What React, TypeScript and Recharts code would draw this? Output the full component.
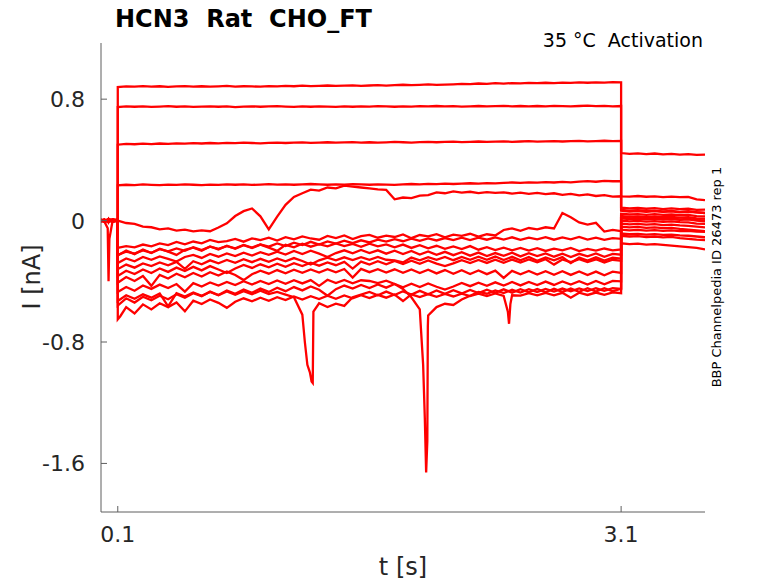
import { Line, LineChart, XAxis, YAxis } from "recharts"

// sample times (s): holding, voltage step, tail
const holdTimes = [0, 0.02, 0.04, 0.045, 0.05, 0.07, 0.1]
const stepTimes = [
  0.1, 0.15, 0.2, 0.25, 0.3, 0.35, 0.4, 0.45, 0.5, 0.55,
  0.6, 0.65, 0.7, 0.75, 0.8, 0.85, 0.9, 0.95, 1.0, 1.05,
  1.1, 1.15, 1.2, 1.25, 1.3, 1.35, 1.4, 1.45, 1.5, 1.55,
  1.6, 1.65, 1.7, 1.75, 1.8, 1.85, 1.9, 1.95, 2.0, 2.05,
  2.1, 2.15, 2.2, 2.25, 2.3, 2.35, 2.4, 2.45, 2.5, 2.55,
  2.6, 2.65, 2.7, 2.75, 2.8, 2.85, 2.9, 2.95, 3.0, 3.05,
  3.1,
]
const tailTimes = [3.1, 3.15, 3.2, 3.25, 3.3, 3.35, 3.4, 3.45, 3.5, 3.55, 3.6]

const xTicks = [0.1, 3.1]
const yTicks = [-1.6, -0.8, 0, 0.8]

// current (nA) per sweep
const holdA = [0.004, -0.006, 0.008, -0.003, 0.005, -0.008, 0.003]
const stepA = [
  0.880, 0.884, 0.882, 0.886, 0.883, 0.885, 0.881, 0.884, 0.886, 0.883,
  0.885, 0.882, 0.884, 0.887, 0.883, 0.885, 0.884, 0.882, 0.886, 0.884,
  0.887, 0.885, 0.889, 0.886, 0.888, 0.890, 0.887, 0.889, 0.891, 0.888,
  0.890, 0.892, 0.889, 0.893, 0.895, 0.892, 0.894, 0.897, 0.894, 0.896,
  0.898, 0.901, 0.899, 0.903, 0.901, 0.905, 0.903, 0.906, 0.904, 0.907,
  0.905, 0.908, 0.906, 0.909, 0.907, 0.910, 0.908, 0.911, 0.909, 0.912,
  0.910,
]
const tailA = [0.445, 0.44, 0.443, 0.438, 0.442, 0.436, 0.44, 0.435, 0.438, 0.433, 0.435]

const holdB = [-0.005, 0.007, -0.004, 0.006, -0.007, 0.005, -0.002]
const stepB = [
  0.748, 0.752, 0.750, 0.753, 0.749, 0.751, 0.754, 0.750, 0.752, 0.749,
  0.751, 0.753, 0.750, 0.752, 0.748, 0.751, 0.753, 0.750, 0.752, 0.754,
  0.751, 0.749, 0.752, 0.750, 0.753, 0.751, 0.749, 0.752, 0.750, 0.753,
  0.751, 0.754, 0.752, 0.750, 0.753, 0.751, 0.754, 0.752, 0.755, 0.752,
  0.754, 0.751, 0.753, 0.755, 0.752, 0.754, 0.756, 0.753, 0.755, 0.752,
  0.755, 0.753, 0.756, 0.754, 0.752, 0.755, 0.757, 0.754, 0.756, 0.753,
  0.755,
]
const tailB = [0.07, 0.065, 0.068, 0.063, 0.066, 0.06, 0.064, 0.058, 0.062, 0.055, 0.05]

const holdC = [0.008, -0.003, 0.005, -0.009, 0.004, 0.006, -0.004]
const stepC = [
  0.500, 0.505, 0.503, 0.507, 0.504, 0.508, 0.506, 0.509, 0.507, 0.510,
  0.508, 0.511, 0.509, 0.512, 0.510, 0.513, 0.511, 0.509, 0.512, 0.514,
  0.511, 0.513, 0.515, 0.512, 0.514, 0.516, 0.513, 0.515, 0.517, 0.514,
  0.516, 0.513, 0.515, 0.518, 0.516, 0.514, 0.517, 0.519, 0.516, 0.518,
  0.520, 0.517, 0.519, 0.521, 0.518, 0.520, 0.522, 0.519, 0.521, 0.523,
  0.520, 0.522, 0.524, 0.521, 0.523, 0.525, 0.522, 0.524, 0.526, 0.523,
  0.525,
]
const tailC = [0.065, 0.06, 0.063, 0.058, 0.062, 0.057, 0.06, 0.055, 0.058, 0.054, 0.05]

const holdD = [-0.002, 0.009, -0.006, 0.003, -0.005, 0.008, 0.005]
const stepD = [
  0.232, 0.236, 0.234, 0.238, 0.235, 0.233, 0.237, 0.235, 0.238, 0.236,
  0.234, 0.237, 0.235, 0.239, 0.236, 0.238, 0.235, 0.237, 0.240, 0.237,
  0.239, 0.236, 0.238, 0.241, 0.238, 0.236, 0.239, 0.237, 0.240, 0.238,
  0.236, 0.239, 0.237, 0.235, 0.238, 0.241, 0.239, 0.242, 0.240, 0.243,
  0.241, 0.244, 0.246, 0.243, 0.247, 0.245, 0.249, 0.251, 0.248, 0.252,
  0.250, 0.253, 0.251, 0.255, 0.252, 0.257, 0.260, 0.256, 0.262, 0.259,
  0.260,
]
const tailD = [0.16, 0.158, 0.162, 0.157, 0.16, 0.155, 0.158, 0.154, 0.156, 0.14, 0.135]

const holdE = [0.006, -0.008, 0.002, 0.007, -0.004, -0.006, 0.002]
const stepE = [
  0.000, -0.016, -0.022, -0.040, -0.044, -0.058, -0.052, -0.066, -0.060, -0.071,
  -0.064, -0.070, -0.046, -0.018, 0.030, 0.062, 0.080, 0.028, -0.058, 0.026,
  0.104, 0.156, 0.180, 0.204, 0.198, 0.218, 0.212, 0.230, 0.224, 0.218,
  0.212, 0.206, 0.202, 0.140, 0.152, 0.148, 0.164, 0.168, 0.186, 0.180,
  0.192, 0.184, 0.190, 0.181, 0.188, 0.183, 0.186, 0.178, 0.184, 0.176,
  0.182, 0.174, 0.180, 0.170, 0.176, 0.166, 0.172, 0.162, 0.168, 0.158,
  0.160,
]
const tailE = [0.085, 0.08, 0.083, 0.078, 0.082, 0.076, 0.08, 0.075, 0.078, 0.07, 0.072]

const holdF = [-0.004, 0.005, -0.009, 0.002, 0.007, -0.003, 0.006]
const stepF = [
  -0.180, -0.168, -0.176, -0.158, -0.170, -0.150, -0.162, -0.141, -0.156, -0.138,
  -0.150, -0.128, -0.142, -0.135, -0.121, -0.139, -0.117, -0.128, -0.112, -0.131,
  -0.109, -0.124, -0.104, -0.118, -0.126, -0.101, -0.115, -0.098, -0.122, -0.103,
  -0.094, -0.113, -0.099, -0.108, -0.091, -0.116, -0.095, -0.104, -0.089, -0.110,
  -0.093, -0.101, -0.087, -0.106, -0.090, -0.098, -0.062, -0.051, -0.068, -0.049,
  -0.058, -0.044, -0.052, 0.050, 0.022, -0.012, -0.026, -0.015, -0.072, -0.061,
  -0.070,
]
const tailF = [0.0, -0.005, -0.002, -0.007, -0.003, -0.008, -0.005, -0.01, -0.012, -0.02, -0.022]

const holdG = [0.003, -0.007, 0.006, -0.002, 0.008, -0.005, -0.003]
const stepG = [
  -0.225, -0.205, -0.218, -0.196, -0.212, -0.188, -0.203, -0.184, -0.199, -0.176,
  -0.194, -0.172, -0.186, -0.168, -0.183, -0.160, -0.178, -0.157, -0.172, -0.150,
  -0.168, -0.146, -0.161, -0.140, -0.158, -0.137, -0.152, -0.133, -0.149, -0.130,
  -0.144, -0.126, -0.139, -0.122, -0.136, -0.119, -0.133, -0.117, -0.131, -0.115,
  -0.129, -0.113, -0.128, -0.112, -0.126, -0.111, -0.125, -0.110, -0.127, -0.112,
  -0.124, -0.109, -0.126, -0.111, -0.123, -0.108, -0.125, -0.113, -0.127, -0.115,
  -0.120,
]
const tailG = [-0.06, -0.064, -0.061, -0.066, -0.063, -0.068, -0.065, -0.07, -0.068, -0.073, -0.075]

const holdH = [-0.006, 0.004, -0.002, 0.009, -0.003, 0.002, 0.007]
const stepH = [
  -0.230, -0.198, -0.221, -0.190, -0.214, -0.185, -0.205, -0.226, -0.192, -0.178,
  -0.198, -0.170, -0.190, -0.165, -0.186, -0.162, -0.181, -0.158, -0.178, -0.200,
  -0.160, -0.176, -0.152, -0.172, -0.155, -0.170, -0.150, -0.168, -0.154, -0.173,
  -0.152, -0.170, -0.157, -0.176, -0.158, -0.180, -0.162, -0.183, -0.166, -0.186,
  -0.170, -0.188, -0.168, -0.192, -0.175, -0.194, -0.178, -0.196, -0.180, -0.198,
  -0.182, -0.200, -0.185, -0.196, -0.180, -0.201, -0.186, -0.198, -0.184, -0.196,
  -0.190,
]
const tailH = [0.045, 0.04, 0.043, 0.038, 0.042, 0.037, 0.04, 0.035, 0.038, 0.03, 0.028]

const holdI = [0.007, -0.002, 0.004, -0.008, 0.003, -0.004, 0.001]
const stepI = [
  -0.280, -0.250, -0.268, -0.240, -0.258, -0.236, -0.252, -0.270, -0.240, -0.226,
  -0.246, -0.220, -0.238, -0.216, -0.234, -0.212, -0.230, -0.208, -0.226, -0.205,
  -0.224, -0.200, -0.220, -0.198, -0.218, -0.240, -0.214, -0.196, -0.216, -0.194,
  -0.214, -0.196, -0.218, -0.199, -0.221, -0.200, -0.224, -0.203, -0.226, -0.206,
  -0.228, -0.208, -0.231, -0.211, -0.234, -0.214, -0.232, -0.212, -0.236, -0.215,
  -0.234, -0.216, -0.238, -0.218, -0.240, -0.219, -0.236, -0.217, -0.239, -0.220,
  -0.225,
]
const tailI = [0.03, 0.025, 0.028, 0.023, 0.027, 0.022, 0.025, 0.02, 0.023, 0.015, 0.012]

const holdJ = [-0.003, 0.006, -0.007, 0.004, 0.001, 0.009, -0.005]
const stepJ = [
  -0.320, -0.290, -0.310, -0.282, -0.300, -0.276, -0.295, -0.272, -0.318, -0.268,
  -0.288, -0.262, -0.282, -0.259, -0.278, -0.255, -0.274, -0.252, -0.271, -0.249,
  -0.268, -0.247, -0.266, -0.290, -0.262, -0.244, -0.262, -0.242, -0.260, -0.241,
  -0.259, -0.240, -0.258, -0.262, -0.276, -0.244, -0.262, -0.241, -0.259, -0.239,
  -0.261, -0.240, -0.259, -0.238, -0.258, -0.237, -0.260, -0.239, -0.262, -0.240,
  -0.265, -0.243, -0.262, -0.241, -0.280, -0.244, -0.263, -0.242, -0.264, -0.245,
  -0.250,
]
const tailJ = [0.015, 0.01, 0.013, 0.008, 0.012, 0.007, 0.01, 0.005, 0.008, 0.0, -0.005]

const holdK = [0.005, -0.004, 0.007, -0.006, 0.002, -0.001, 0.006]
const stepK = [
  -0.410, -0.372, -0.398, -0.365, -0.430, -0.358, -0.382, -0.350, -0.374, -0.345,
  -0.368, -0.340, -0.362, -0.336, -0.358, -0.392, -0.354, -0.330, -0.350, -0.326,
  -0.347, -0.324, -0.344, -0.322, -0.342, -0.320, -0.341, -0.319, -0.375, -0.318,
  -0.340, -0.320, -0.342, -0.321, -0.344, -0.322, -0.346, -0.324, -0.348, -0.326,
  -0.350, -0.327, -0.352, -0.329, -0.353, -0.330, -0.378, -0.331, -0.354, -0.332,
  -0.356, -0.333, -0.357, -0.334, -0.358, -0.335, -0.359, -0.336, -0.360, -0.337,
  -0.345,
]
const tailK = [-0.04, -0.045, -0.042, -0.048, -0.045, -0.05, -0.048, -0.055, -0.06, -0.065, -0.07]

const holdL = [-0.007, 0.003, -0.005, 0.008, -0.002, 0.004, -0.006]
const stepL = [
  -0.470, -0.438, -0.462, -0.428, -0.450, -0.422, -0.444, -0.418, -0.468, -0.412,
  -0.434, -0.408, -0.428, -0.404, -0.425, -0.400, -0.421, -0.398, -0.418, -0.395,
  -0.416, -0.393, -0.414, -0.392, -0.430, -0.390, -0.412, -0.391, -0.413, -0.393,
  -0.398, -0.412, -0.396, -0.418, -0.450, -0.505, -0.585, -0.625, -0.570, -0.548,
  -0.556, -0.520, -0.495, -0.470, -0.482, -0.460, -0.478, -0.456, -0.474, -0.452,
  -0.470, -0.450, -0.468, -0.448, -0.466, -0.447, -0.465, -0.446, -0.463, -0.445,
  -0.450,
]
const spikeL = [
  [1.92, -0.95],
  [1.93, -1.3],
  [1.938, -1.66],
  [1.945, -1.45],
  [1.948, -0.7],
]
const tailL = [-0.085, -0.09, -0.087, -0.092, -0.089, -0.094, -0.092, -0.098, -0.1, -0.105, -0.11]

const holdM = [0.002, -0.009, 0.005, -0.001, 0.006, -0.007, 0.004]
const stepM = [
  -0.530, -0.492, -0.515, -0.486, -0.508, -0.480, -0.565, -0.478, -0.500, -0.474,
  -0.496, -0.470, -0.492, -0.467, -0.489, -0.465, -0.486, -0.462, -0.484, -0.470,
  -0.488, -0.505, -0.620, -1.030, -0.545, -0.570, -0.548, -0.562, -0.505, -0.488,
  -0.470, -0.492, -0.468, -0.490, -0.466, -0.487, -0.463, -0.485, -0.461, -0.483,
  -0.459, -0.480, -0.457, -0.478, -0.455, -0.476, -0.453, -0.475, -0.452, -0.473,
  -0.450, -0.472, -0.449, -0.470, -0.448, -0.469, -0.446, -0.467, -0.445, -0.466,
  -0.448,
]
const spikeM = [
  [1.215, -0.8],
  [1.23, -0.95],
  [1.245, -1.0],
  [1.255, -1.06],
  [1.262, -1.07],
  [1.266, -0.6],
]
const tailM = [-0.1, -0.105, -0.102, -0.108, -0.105, -0.11, -0.108, -0.115, -0.12, -0.125, -0.128]

const holdN = [-0.001, 0.006, -0.008, 0.003, -0.004, 0.007, -0.002]
const stepN = [
  -0.650, -0.570, -0.612, -0.552, -0.585, -0.545, -0.570, -0.540, -0.598, -0.528,
  -0.550, -0.520, -0.542, -0.575, -0.535, -0.512, -0.532, -0.508, -0.528, -0.505,
  -0.524, -0.500, -0.520, -0.498, -0.517, -0.495, -0.515, -0.493, -0.512, -0.491,
  -0.510, -0.489, -0.508, -0.487, -0.530, -0.486, -0.504, -0.484, -0.502, -0.483,
  -0.500, -0.482, -0.498, -0.481, -0.497, -0.480, -0.496, -0.492, -0.494, -0.478,
  -0.493, -0.477, -0.492, -0.476, -0.508, -0.475, -0.490, -0.474, -0.489, -0.473,
  -0.478,
]
const spikeN = [
  [0.115, -0.63],
  [2.425, -0.6],
  [2.432, -0.68],
  [2.44, -0.55],
]
const tailN = [-0.15, -0.155, -0.152, -0.158, -0.155, -0.16, -0.165, -0.17, -0.175, -0.18, -0.19]

const holdO = [0.002, -0.006, -0.05, -0.4, -0.12, 0.004, -0.003]
const stepO = [
  -0.560, -0.512, -0.540, -0.502, -0.525, -0.495, -0.518, -0.485, -0.508, -0.478,
  -0.498, -0.468, -0.490, -0.460, -0.482, -0.454, -0.476, -0.448, -0.470, -0.442,
  -0.465, -0.438, -0.460, -0.434, -0.456, -0.495, -0.452, -0.428, -0.448, -0.424,
  -0.445, -0.421, -0.442, -0.418, -0.440, -0.416, -0.438, -0.414, -0.436, -0.455,
  -0.434, -0.411, -0.432, -0.409, -0.430, -0.407, -0.428, -0.405, -0.427, -0.404,
  -0.425, -0.402, -0.424, -0.401, -0.422, -0.399, -0.421, -0.398, -0.420, -0.397,
  -0.400,
]
const tailO = [0.02, 0.015, 0.018, 0.013, 0.016, 0.01, 0.014, 0.008, 0.011, 0.005, 0.0]

const holdP = [-0.008, 0.002, 0.006, -0.005, 0.009, -0.002, 0.004]
const stepP = [
  -0.365, -0.330, -0.352, -0.322, -0.345, -0.316, -0.338, -0.310, -0.332, -0.305,
  -0.328, -0.300, -0.322, -0.345, -0.316, -0.292, -0.312, -0.288, -0.308, -0.284,
  -0.304, -0.281, -0.300, -0.278, -0.297, -0.276, -0.294, -0.272, -0.316, -0.270,
  -0.290, -0.268, -0.288, -0.266, -0.286, -0.264, -0.285, -0.263, -0.284, -0.300,
  -0.282, -0.261, -0.280, -0.259, -0.279, -0.258, -0.278, -0.257, -0.276, -0.256,
  -0.275, -0.255, -0.290, -0.256, -0.274, -0.254, -0.273, -0.255, -0.276, -0.258,
  -0.265,
]
const tailP = [-0.02, -0.025, -0.022, -0.027, -0.024, -0.03, -0.027, -0.032, -0.035, -0.04, -0.045]

type Pt = { t: number; v: number }

function sweep(hold: number[], step: number[], tail: number[], extra: number[][] = []): Pt[] {
  const pts: Pt[] = [
    ...holdTimes.map((t, i) => ({ t, v: hold[i] })),
    ...stepTimes.map((t, i) => ({ t, v: step[i] })),
    ...tailTimes.map((t, i) => ({ t, v: tail[i] })),
    ...extra.map(([t, v]) => ({ t, v })),
  ]
  // stable sort keeps the vertical jumps at 0.1 s and 3.1 s in order
  return pts.sort((a, b) => a.t - b.t)
}

const sweeps = [
  sweep(holdA, stepA, tailA),
  sweep(holdB, stepB, tailB),
  sweep(holdC, stepC, tailC),
  sweep(holdD, stepD, tailD),
  sweep(holdE, stepE, tailE),
  sweep(holdF, stepF, tailF),
  sweep(holdG, stepG, tailG),
  sweep(holdH, stepH, tailH),
  sweep(holdI, stepI, tailI),
  sweep(holdJ, stepJ, tailJ),
  sweep(holdK, stepK, tailK),
  sweep(holdL, stepL, tailL, spikeL),
  sweep(holdM, stepM, tailM, spikeM),
  sweep(holdN, stepN, tailN, spikeN),
  sweep(holdO, stepO, tailO),
  sweep(holdP, stepP, tailP),
]

const axisColor = "#5f5f5f"
const textColor = "#262626"
const font = "DejaVu Sans"

const XTick = (props: any) => {
  const { x, y, payload } = props
  return (
    <g>
      <line x1={x} x2={x} y1={y} y2={y - 6} stroke={axisColor} />
      <text x={x} y={y + 30} textAnchor="middle" fontSize={22} fill={textColor} fontFamily={font}>
        {String(payload.value)}
      </text>
    </g>
  )
}

const YTick = (props: any) => {
  const { x, y, payload } = props
  return (
    <g>
      <line x1={x} x2={x + 6} y1={y} y2={y} stroke={axisColor} />
      <text x={x - 16} y={y} dy="0.36em" textAnchor="end" fontSize={22} fill={textColor} fontFamily={font}>
        {String(payload.value)}
      </text>
    </g>
  )
}

export default function App() {
  return (
    <div style={{ position: "absolute", left: 0, top: 0, width: 778, height: 583, background: "#fff" }}>
      <LineChart width={778} height={583} margin={{ top: 43, right: 73, bottom: 41, left: 41 }}>
        <XAxis
          type="number"
          dataKey="t"
          domain={[0, 3.6]}
          ticks={xTicks}
          height={30}
          stroke={axisColor}
          tickLine={false}
          tickSize={0}
          tickMargin={0}
          tick={<XTick />}
          allowDataOverflow
        />
        <YAxis
          type="number"
          domain={[-1.92, 1.17]}
          ticks={yTicks}
          width={60}
          stroke={axisColor}
          tickLine={false}
          tickSize={0}
          tickMargin={0}
          tick={<YTick />}
          allowDataOverflow
        />
        {sweeps.map((data, i) => (
          <Line
            key={i}
            data={data}
            dataKey="v"
            type="linear"
            stroke="#ff0000"
            strokeWidth={2.3}
            dot={false}
            isAnimationActive={false}
          />
        ))}
      </LineChart>
      <svg
        width={778}
        height={583}
        style={{ position: "absolute", left: 0, top: 0, pointerEvents: "none" }}
        fontFamily={font}
      >
        <text x={115} y={27} fontSize={24} fontWeight="bold" fill="#000" style={{ whiteSpace: "pre" }}>
          HCN3  Rat  CHO_FT
        </text>
        <text x={703} y={47} fontSize={19} textAnchor="end" fill="#000" style={{ whiteSpace: "pre" }}>
          35 °C  Activation
        </text>
        <text x={403} y={575} fontSize={24} textAnchor="middle" fill={textColor}>
          t [s]
        </text>
        <text x={40} y={277} fontSize={24} textAnchor="middle" fill={textColor} transform="rotate(-90 40 277)">
          I [nA]
        </text>
        <text x={721} y={277} fontSize={13} textAnchor="middle" fill="#000" transform="rotate(-90 721 277)">
          BBP Channelpedia ID 26473 rep 1
        </text>
      </svg>
    </div>
  )
}
